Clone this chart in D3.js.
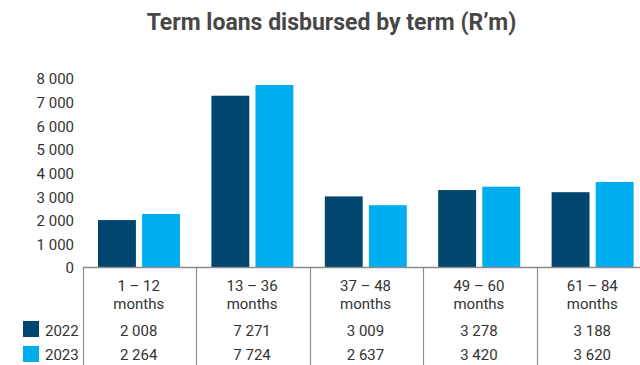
<!DOCTYPE html>
<html><head><meta charset="utf-8">
<script src="https://cdn.jsdelivr.net/npm/d3@7/dist/d3.min.js"></script>
<style>
html,body{margin:0;padding:0;background:#fff;}
text{font-family:Roboto,"Noto Sans",sans-serif;fill:#333;}
</style></head>
<body><svg id="c" width="640" height="365"></svg>
<script>
const categories = [["1 – 12","months"],["13 – 36","months"],["37 – 48","months"],["49 – 60","months"],["61 – 84","months"]];
const series = ["2022","2023"];
const values2022 = [2008, 7271, 3009, 3278, 3188];
const values2023 = [2264, 7724, 2637, 3420, 3620];
const yTicks = [0,1000,2000,3000,4000,5000,6000,7000,8000];
const colors = ["#00466f","#00aeef"];
const title = "Term loans disbursed by term (R’m)";

const svg = d3.select("#c");
const fmtS = v => d3.format(",")(v).replace(/,/g," ");

const x = d3.scaleBand().domain(d3.range(categories.length)).range([83, 650]).paddingInner(0).paddingOuter(0);
const y = d3.scaleLinear().domain([0, 8000]).range([267.5, 78.5]);
const x1 = d3.scaleBand().domain(series).range([15, 97]).paddingInner(0.14);

svg.append("text").attr("x", 331.5).attr("y", 30).attr("text-anchor","middle")
  .style("font-size","23px").style("font-weight","bold").style("fill","#474747").text(title);

// y axis labels
const yAxis = d3.axisLeft(y).tickValues(yTicks).tickSize(0).tickPadding(0).tickFormat(fmtS);
const ya = svg.append("g").attr("transform","translate(74,0)").call(yAxis);
ya.select(".domain").remove();
ya.selectAll("text").style("font-size","15px").style("font-family","Roboto,sans-serif").attr("fill","#333").attr("dy","0.36em");

const data = categories.map((c,i)=>({i, v:[values2022[i], values2023[i]]}));
const g = svg.append("g");
g.selectAll("g.cat").data(data).join("g").attr("class","cat")
 .attr("transform", d=>`translate(${x(d.i)},0)`)
 .selectAll("rect").data(d=>d.v.map((v,k)=>({k,v}))).join("rect")
 .attr("x", d=>x1(series[d.k])).attr("width", x1.bandwidth())
 .attr("y", d=>y(d.v)).attr("height", d=>y(0)-y(d.v)).attr("fill", d=>colors[d.k]);

// axis line
svg.append("line").attr("x1",83).attr("x2",640).attr("y1",267.5).attr("y2",267.5).attr("stroke","#8c8c8c").attr("stroke-width",1.5);
// dividers
const bounds = d3.range(categories.length).map(i=>x(i));
svg.selectAll("line.div").data(bounds).join("line").attr("class","div")
 .attr("x1",d=>Math.round(d)+0.5).attr("x2",d=>Math.round(d)+0.5).attr("y1",267).attr("y2",365)
 .attr("stroke","#8c8c8c").attr("stroke-width",1.2);

// category labels
const cx = i => x(i) + x.bandwidth()/2 - 1;
categories.forEach((c,i)=>{
  svg.append("text").attr("x",cx(i)).attr("y",291).attr("text-anchor","middle").style("font-size","15px").text(c[0]);
  svg.append("text").attr("x",cx(i)).attr("y",309).attr("text-anchor","middle").style("font-size","15px").text(c[1]);
  svg.append("text").attr("x",cx(i)).attr("y",336).attr("text-anchor","middle").style("font-size","15px").text(fmtS(values2022[i]));
  svg.append("text").attr("x",cx(i)).attr("y",360).attr("text-anchor","middle").style("font-size","15px").text(fmtS(values2023[i]));
});

// legend
series.forEach((s,k)=>{
  svg.append("rect").attr("x",23).attr("y",321+k*25).attr("width",16).attr("height",16).attr("fill",colors[k]);
  svg.append("text").attr("x",45).attr("y",336+k*24).style("font-size","15px").text(s);
});
</script></body></html>
